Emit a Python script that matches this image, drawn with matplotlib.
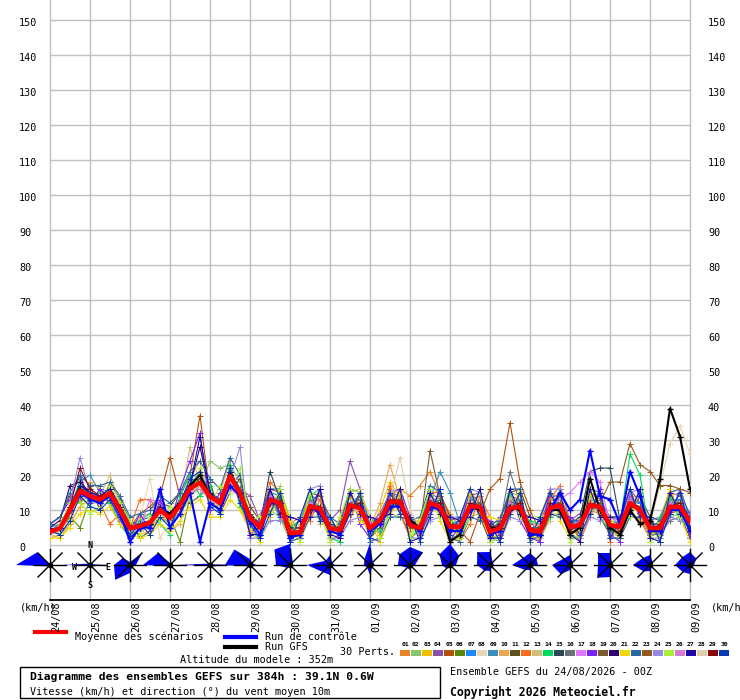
import numpy as np
import matplotlib
matplotlib.use('Agg')
import matplotlib.pyplot as plt
from matplotlib.transforms import ScaledTranslation
from matplotlib.patches import Polygon, Rectangle

# ---- data (6h steps, 0..384h) ----
hours = np.arange(65) * 6
dates = ['24/08', '25/08', '26/08', '27/08', '28/08', '29/08', '30/08', '31/08', '01/09',
         '02/09', '03/09', '04/09', '05/09', '06/09', '07/09', '08/09', '09/09']
yticks = list(range(0, 151, 10))

mean = [3.8, 4.8, 10, 15.5, 14, 13, 14.8, 10, 4.8, 5.4, 6.4, 10, 7.7, 11.4, 16.2, 17.8, 13.8,
        12, 19.7, 14.8, 7.8, 5, 12.9, 12, 3.4, 3.6, 11.1, 10.3, 4.8, 4.3, 11.4, 10.5, 4.8, 7.1,
        12.4, 12.4, 5.7, 4.8, 12.1, 10.8, 5.2, 5.2, 11, 10.9, 3.8, 4.8, 10.5, 10.9, 4.3, 3.8,
        10.5, 11.4, 5.2, 5.7, 11.4, 10.9, 5.7, 5.2, 12, 10, 4.8, 4.8, 10.9, 10.9, 6.7]
control = [4, 5, 10, 15, 13, 12, 14, 9, 1, 5, 5, 16, 5, 9, 15, 1, 12, 10, 17, 14, 7, 3, 12, 12, 2,
           3, 11, 9, 4, 3, 11, 11, 4, 6, 11, 11, 6, 4, 11, 10, 4, 4, 10, 11, 3, 4, 10, 11, 3, 3,
           10, 15, 10, 13, 27, 14, 13, 6, 21, 14, 4, 4, 10, 10, 4]
gfs = [4, 5, 10, 16, 14, 13, 15, 10, 5, 5, 6, 10, 9, 12, 17, 20, 14, 12, 20, 15, 8, 5, 13, 12, 3,
       4, 11, 10, 5, 4, 11, 11, 5, 7, 12, 12, 7, 5, 12, 11, 1, 3, 11, 10, 5, 5, 11, 10, 3, 3,
       10, 10, 3, 5, 19, 10, 5, 3, 10, 6, 7, 19, 39, 31, 16]

p01 = [3,4,8,14,13,12,14,9,4,6,7,9,6,10,15,17,13,11,18,14,
       7,4,14,13, 2,3,13,9, 3,6,14,9, 5,8,14,16, 14,17,21,14, 9,5,15,12, 3,6,13,9, 2,5,14,12, 4,7,13,9, 7,6,14,8, 3,7,13,12, 8]
p02 = [4,5,9,13,12,12,14,9,3,4,5,8,6,10,14,16,24,22,23,18,
       9,6,10,8, 1,2,8,11, 6,3,9,13, 3,5,9,8, 7,4,9,12, 2,3,8,9, 6,4,15,14, 2,2,8,9, 6,3,8,12, 4,2,9,7, 3,5,8,9, 5]
p03 = [3,2,6,11,13,14,12,9,4,3,4,8,7,10,17,21,13,10,19,13,
       4,5,15,11, 3,2,14,7, 5,2,15,8, 3,10,18,14, 7,3,9,14, 2,2,14,9, 2,3,9,12, 3,1,13,15, 3,4,15,9, 5,2,16,12, 3,4,14,10, 4]
p04 = [4,6,11,17,15,14,16,12,6,7,8,11,9,13,17,19,15,13,21,16,
       14,7,16,15, 5,7,14,13, 7,10,24,16, 6,9,15,14, 8,6,15,13, 7,8,14,15, 5,8,14,13, 6,6,14,14, 7,9,15,13, 8,7,16,12, 7,8,15,14, 9]
p05 = [4,5,9,15,14,13,15,10,5,9,11,14,25,14,20,37,14,11,19,14,
       7,4,12,9, 2,4,9,11, 4,3,12,10, 5,6,10,13, 6,4,13,10, 5,4,1,9, 16,19,35,18, 10,4,9,11, 5,6,10,9, 5,4,10,11, 4,5,9,10, 6]
p06 = [4,5,8,5,13,12,14,10,5,4,6,9,8,1,14,17,13,12,19,14,
       7,5,10,14, 4,7,12,8, 5,6,9,12, 6,7,11,10, 6,3,10,13, 6,4,9,12, 4,7,10,13, 4,3,12,9, 5,7,9,12, 6,3,12,9, 5,2,9,13, 4]
p07 = [5,6,11,17,15,13,15,11,6,6,7,11,9,12,18,19,15,13,21,16,
       9,6,15,14, 4,5,12,15, 6,5,12,14, 6,8,15,13, 7,6,14,12, 6,7,13,14, 5,6,12,13, 5,5,13,12, 6,7,13,12, 7,6,13,12, 6,6,13,13, 8]
p08 = [3,4,9,14,12,12,14,9,4,8,19,2,6,9,14,16,13,11,17,13,
       6,4,11,10, 3,4,9,8, 4,3,9,10, 4,6,11,10, 5,4,10,9, 4,4,9,10, 4,4,9,10, 4,4,9,9, 4,5,9,10, 5,5,10,10, 6,17,29,34, 26]
p09 = [4,5,11,18,20,15,16,11,5,5,7,10,8,12,17,21,15,12,20,15,
       8,5,13,12, 3,4,13,11, 5,5,12,13, 5,7,12,13, 6,5,13,21, 15,6,11,10, 4,5,10,12, 4,4,11,13, 5,6,11,11, 6,5,12,10, 5,5,11,11, 7]
p10 = [2,3,6,11,18,16,11,6,2,8,9,15,4,6,19,24,9,15,24,11,
       4,2,16,9, 6,1,8,15, 2,6,16,7, 5,12,23,13, 9,2,14,16, 2,8,16,7, 7,1,8,15, 2,7,16,8, 8,3,13,15, 2,7,15,8, 8,2,14,15, 3]
p11 = [6,8,14,12,17,10,18,13,7,2,4,12,11,15,12,14,18,9,15,19,
       11,7,9,16, 7,2,15,14, 8,3,9,14, 2,5,16,9, 3,8,10,15, 8,2,16,8, 1,7,15,16, 8,1,9,14, 6,2,16,8, 3,8,9,14, 8,3,15,9, 2]
p12 = [4,5,9,14,13,12,6,9,5,13,13,9,7,10,15,17,13,12,18,14,
       3,7,18,15, 6,8,7,13, 1,3,7,15, 8,3,17,9, 2,4,15,15, 7,1,6,14, 8,2,9,15, 1,6,13,17, 7,1,8,15, 1,8,16,7, 2,7,16,8, 9]
p13 = [3,4,10,15,13,14,20,12,4,4,5,9,8,12,28,17,13,11,18,14,
       5,9,8,17, 1,6,16,6, 7,1,15,16, 2,8,9,16, 7,2,8,15, 3,7,15,8, 6,1,14,9, 8,2,7,16, 2,8,16,7, 7,2,9,15, 1,8,15,16, 4]
p14 = [5,3,7,19,11,16,12,6,2,7,9,6,3,14,20,14,17,9,23,11,
       6,1,15,7, 5,7,14,16, 2,1,15,7, 7,4,8,16, 1,6,16,8, 8,3,8,16, 2,2,15,8, 7,6,8,16, 3,2,15,8, 4,6,26,20, 2,8,14,7, 5]
p15 = [4,5,11,17,15,14,15,11,6,6,7,11,9,12,17,19,15,13,21,16,
       9,6,21,13, 5,5,12,11, 6,5,12,12, 6,8,13,13, 7,6,13,12, 6,6,12,12, 5,6,12,12, 5,5,12,12, 6,8,21,22, 22,7,12,11, 6,6,12,12, 8]
p16 = [4,5,10,15,14,13,14,10,5,5,6,10,8,11,16,17,14,12,19,15,
       8,5,13,12, 3,4,11,10, 5,4,11,11, 5,7,12,12, 6,5,12,11, 5,5,11,12, 5,6,21,12, 4,4,11,11, 5,6,11,11, 6,5,12,10, 3,3,7,8, 9]
p17 = [3,4,9,14,13,12,14,9,4,5,13,12,7,11,15,17,13,11,18,14,
       7,5,12,11, 4,4,11,10, 5,4,11,11, 5,7,12,12, 6,5,12,11, 5,5,11,11, 4,5,11,11, 4,6,11,13, 15,18,21,18, 6,5,12,10, 5,5,11,11, 7]
p18 = [6,8,13,20,12,16,13,7,3,9,4,13,6,16,24,32,10,15,17,20,
       2,8,16,8, 8,2,10,16, 3,7,16,6, 2,1,15,16, 8,3,9,16, 1,6,15,8, 7,3,16,7, 2,1,16,9, 8,6,9,16, 3,1,15,8, 7,3,8,16, 2]
p19 = [3,5,9,15,13,14,15,11,6,4,6,11,7,10,16,19,13,13,19,16,
       9,5,12,13, 4,4,10,11, 5,5,10,12, 6,7,11,13, 7,5,27,14, 5,6,10,12, 4,4,10,12, 5,4,10,12, 5,5,10,12, 5,5,11,11, 6,4,10,12, 6]
p20 = [5,7,17,18,15,14,15,11,5,6,7,11,9,12,17,28,15,12,21,15,
       8,5,14,11, 2,4,12,9, 4,5,12,10, 4,8,13,11, 5,6,13,10, 4,6,12,10, 3,6,12,10, 3,5,12,10, 4,7,12,10, 5,6,13,9, 4,6,12,10, 6]
p21 = [2,2,5,9,10,9,11,6,3,2,3,6,4,7,11,13,8,8,13,10,
       4,1,8,15, 7,3,16,8, 2,8,15,7, 6,1,8,15, 3,8,16,7, 1,2,15,9, 8,7,9,16, 1,8,16,7, 2,2,15,9, 8,3,9,16, 2,7,16,8, 1]
p22 = [6,8,15,20,17,17,18,14,8,9,10,14,12,15,21,24,19,16,25,20,
       6,6,16,16, 1,2,8,8, 8,6,16,15, 1,2,8,8, 7,8,17,15, 2,1,8,7, 6,7,16,16, 1,3,9,8, 7,7,16,15, 2,2,8,8, 8,7,15,16, 8]
p23 = [4,4,9,15,15,12,16,10,4,6,6,11,8,10,17,20,15,11,20,14,
       9,5,12,12, 4,5,11,10, 4,5,11,12, 5,6,12,12, 5,6,11,12, 6,5,10,12, 5,5,10,12, 4,5,10,12, 6,6,10,12, 18,18,29,23, 21,17,17,16, 15]
p24 = [4,5,12,25,15,13,14,10,5,4,6,10,8,11,15,17,13,12,19,28,
       2,2,7,7, 8,7,16,17, 2,2,7,8, 7,8,15,16, 2,2,7,8, 8,8,16,15, 2,1,8,7, 8,7,16,16, 2,2,8,7, 8,6,15,16, 2,2,8,7, 9]
p25 = [3,6,12,12,9,11,17,12,7,3,8,7,11,9,13,22,11,17,15,22,
       7,8,9,16, 8,1,15,9, 1,8,16,15, 8,2,9,16, 2,7,16,8, 7,2,8,16, 1,2,16,8, 8,8,9,15, 1,3,16,8, 8,8,8,16, 1,3,15,8, 7]
p26 = [4,5,10,14,15,14,15,9,4,5,6,11,8,11,15,16,13,12,16,14,
       3,5,14,12, 4,4,12,10, 4,4,12,10, 6,7,13,11, 6,5,13,10, 5,6,12,10, 5,5,12,10, 5,4,12,10, 5,7,12,10, 6,5,13,9, 5,6,12,10, 7]
p27 = [4,5,11,17,15,14,16,11,2,5,6,11,9,12,17,31,15,12,21,15,
       3,3,16,9, 8,7,8,16, 3,2,15,9, 8,7,9,16, 1,2,15,9, 8,7,8,16, 2,2,16,9, 8,7,9,15, 3,1,16,8, 8,8,9,16, 2,1,15,9, 6]
p28 = [3,4,9,14,13,12,14,9,4,4,5,9,7,10,15,17,13,11,18,14,
       7,4,12,11, 3,4,10,10, 4,4,10,10, 4,8,13,25, 10,5,11,10, 4,4,10,10, 4,4,10,10, 4,4,10,10, 4,5,10,10, 5,4,11,9, 4,4,10,10, 6]
p29 = [4,5,11,22,16,14,15,10,5,5,6,10,8,11,16,18,14,12,20,15,
       8,5,12,11, 3,4,10,11, 5,4,10,12, 4,7,13,11, 6,4,11,12, 6,5,12,11, 3,5,10,12, 5,3,12,11, 4,6,12,10, 6,4,11,10, 4,6,11,12, 5]
p30 = [4,3,7,14,11,10,13,8,3,6,3,8,5,12,19,21,11,9,22,12,
       6,2,9,15, 1,8,16,7, 8,3,9,15, 2,7,15,9, 8,1,8,16, 3,8,16,8, 6,1,9,15, 2,8,15,9, 7,3,9,15, 2,7,16,8, 8,1,9,15, 5]
perts = [p01, p02, p03, p04, p05, p06, p07, p08, p09, p10, p11, p12, p13, p14, p15,
         p16, p17, p18, p19, p20, p21, p22, p23, p24, p25, p26, p27, p28, p29, p30]
pert_colors = ['#e8832a', '#88c46a', '#f0c000', '#8c50a8', '#b0520c', '#5a8a0a', '#1e88ff',
               '#e8d6b0', '#3c90c0', '#e8a850', '#62501c', '#f86c1c', '#d0c07a', '#00d860',
               '#284858', '#687478', '#e078f8', '#7c20f8', '#7c5a30', '#300070', '#f0d800',
               '#2868a0', '#905a20', '#9888e8', '#a8f038', '#d878d8', '#2008a8', '#e0cca8',
               '#880808', '#0838b8']

# daily direction roses: radius per direction N, NE, E, SE, S, SW, W, NW
roses = [
    [0, 0, 3, 1, 1, 2, 34, 18],
    [0, 1, 18, 2, 0, 1, 27, 2],
    [3, 17, 6, 3, 8, 21, 16, 10],
    [2, 0, 15, 1, 0, 2, 27, 17],
    [0, 1, 26, 2, 0, 1, 33, 2],
    [6, 3, 6, 1, 1, 2, 25, 22],
    [21, 4, 3, 0, 2, 4, 14, 22],
    [10, 3, 5, 2, 10, 10, 23, 6],
    [22, 4, 5, 3, 10, 4, 6, 8],
    [18, 18, 5, 2, 5, 4, 12, 15],
    [21, 13, 6, 2, 3, 5, 8, 15],
    [13, 4, 4, 2, 6, 8, 13, 18],
    [12, 9, 8, 2, 5, 7, 18, 10],
    [10, 4, 2, 1, 5, 13, 18, 9],
    [12, 3, 2, 2, 12, 18, 12, 17],
    [10, 4, 3, 1, 6, 9, 17, 10],
    [13, 9, 4, 2, 9, 10, 15, 11],
]

W, H = 740, 700
fig = plt.figure(figsize=(W / 100, H / 100), dpi=100)
mono = 'DejaVu Sans Mono'
grid_c = '#c0c0c0'

# main speed axes: x 50..690 px, y 0..600 px
ax = fig.add_axes([50 / W, 100 / H, 640 / W, 600 / H])
ax.set_xlim(0, 384)
ax.set_ylim(-55 / 3.5, 545 / 3.5)
for s in ['left', 'right', 'top']:
    ax.spines[s].set_visible(False)
ax.spines['bottom'].set_color('black')
ax.spines['bottom'].set_linewidth(1.3)
ax.set_xticks([])
ax.set_yticks([])
for v in yticks:
    ax.axhline(v, color=grid_c, lw=1, zorder=0)
for h in range(0, 385, 24):
    ax.axvline(h, color=grid_c, lw=1, zorder=0, clip_on=False)

for vals, c in zip(perts, pert_colors):
    ax.plot(hours, vals, color=c, lw=0.8, marker='+', ms=4, mew=0.7, zorder=2)
ax.plot(hours, gfs, color='black', lw=1.5, marker='+', ms=4, zorder=3)
ax.plot(hours, control, color='#0000ff', lw=1.5, marker='+', ms=4, zorder=4)
ax.plot(hours, mean, color='#ff0000', lw=3.2, zorder=5)

ytr = ax.get_yaxis_transform()
off_l = ScaledTranslation(-31 / 100, -3 / 100, fig.dpi_scale_trans)
off_r = ScaledTranslation(18 / 100, -3 / 100, fig.dpi_scale_trans)
for v in yticks:
    ax.text(0, v, str(v), transform=ytr + off_l, ha='left', va='center',
            family=mono, fontsize=7.3, clip_on=False)
    ax.text(1, v, str(v), transform=ytr + off_r, ha='left', va='center',
            family=mono, fontsize=7.3, clip_on=False)

xtr = ax.get_xaxis_transform() + ScaledTranslation(6 / 100, -1 / 100, fig.dpi_scale_trans)
for i, d in enumerate(dates):
    ax.text(hours[0] + 24 * i, 0, d, transform=xtr, rotation=90, ha='center', va='top',
            family=mono, fontsize=7.3, clip_on=False)

# wind direction roses (same x scale, equal aspect): y 530..600 px
axr = fig.add_axes([50 / W, 100 / H, 640 / W, 70 / H])
axr.set_xlim(0, 384)
axr.set_ylim(-21, 21)
axr.axis('off')
k = 384 / 640
ang = np.deg2rad(np.arange(0, 360, 45))
for i, r in enumerate(roses):
    cx = 24 * i
    r = np.array(r) * k
    pts = np.column_stack([cx + r * np.sin(ang), r * np.cos(ang)])
    axr.add_patch(Polygon(pts, closed=True, facecolor='#0000ff', edgecolor='none',
                          zorder=2, clip_on=False))
    for a in ang:
        ln = 16 if int(round(np.rad2deg(a))) % 90 == 0 else 17
        axr.plot([cx, cx + ln * k * np.sin(a)], [0, ln * k * np.cos(a)],
                 color='black', lw=1.0, zorder=3, clip_on=False)
    axr.plot(cx, 0, 'o', color='black', ms=3, zorder=4, clip_on=False)
for lab, dx, dy in [('N', 0, 19), ('S', 0, -21), ('W', -15, -2), ('E', 18, -2)]:
    axr.text(24 + dx * k, dy * k, lab, ha='center', va='center', family=mono,
             fontsize=6, fontweight='bold', zorder=5)

# overlay in pixel coords for legend & captions
ov = fig.add_axes([0, 0, 1, 1], zorder=-1)
ov.set_xlim(0, W)
ov.set_ylim(H, 0)
ov.axis('off')
ov.patch.set_alpha(0)

ov.text(60, 448, 'Vent moyen 10m', family=mono, fontsize=7.3, va='center')
ov.text(20, 607, '(km/h)', family=mono, fontsize=7.3, va='center')
ov.text(711, 607, '(km/h)', family=mono, fontsize=7.3, va='center')

ov.plot([35, 66], [632, 632], color='#ff0000', lw=3)
ov.text(75, 637, 'Moyenne des scénarios', family=mono, fontsize=7.3, va='center')
ov.plot([225, 256], [637, 637], color='#0000ff', lw=3)
ov.text(265, 637, 'Run de contrôle', family=mono, fontsize=7.3, va='center')
ov.plot([225, 256], [647, 647], color='black', lw=3)
ov.text(265, 647, 'Run GFS', family=mono, fontsize=7.3, va='center')
ov.text(340, 652, '30 Perts.', family=mono, fontsize=7.3, va='center')
ov.text(180, 660, 'Altitude du modele : 352m', family=mono, fontsize=7.3, va='center')

for i, c in enumerate(pert_colors):
    ov.add_patch(Rectangle((400 + 11 * i, 650), 10, 6, facecolor=c, edgecolor='none'))
    ov.text(405 + 11 * i, 644, f'{i + 1:02d}', family=mono, fontsize=4.6,
            ha='center', va='center', fontweight='bold')

ov.add_patch(Rectangle((20, 667), 420, 31, facecolor='none', edgecolor='black', lw=1))
ov.text(30, 677, 'Diagramme des ensembles GEFS sur 384h : 39.1N 0.6W', family=mono,
        fontsize=8.2, fontweight='bold', va='center')
ov.text(30, 692, 'Vitesse (km/h) et direction (°) du vent moyen 10m', family=mono,
        fontsize=7.3, va='center')
ov.text(450, 672, 'Ensemble GEFS du 24/08/2026 - 00Z', family=mono, fontsize=7.3, va='center')
ov.text(450, 692, 'Copyright 2026 Meteociel.fr', family=mono, fontsize=8.3,
        fontweight='bold', va='center')

fig.savefig('out.png', dpi=100)
